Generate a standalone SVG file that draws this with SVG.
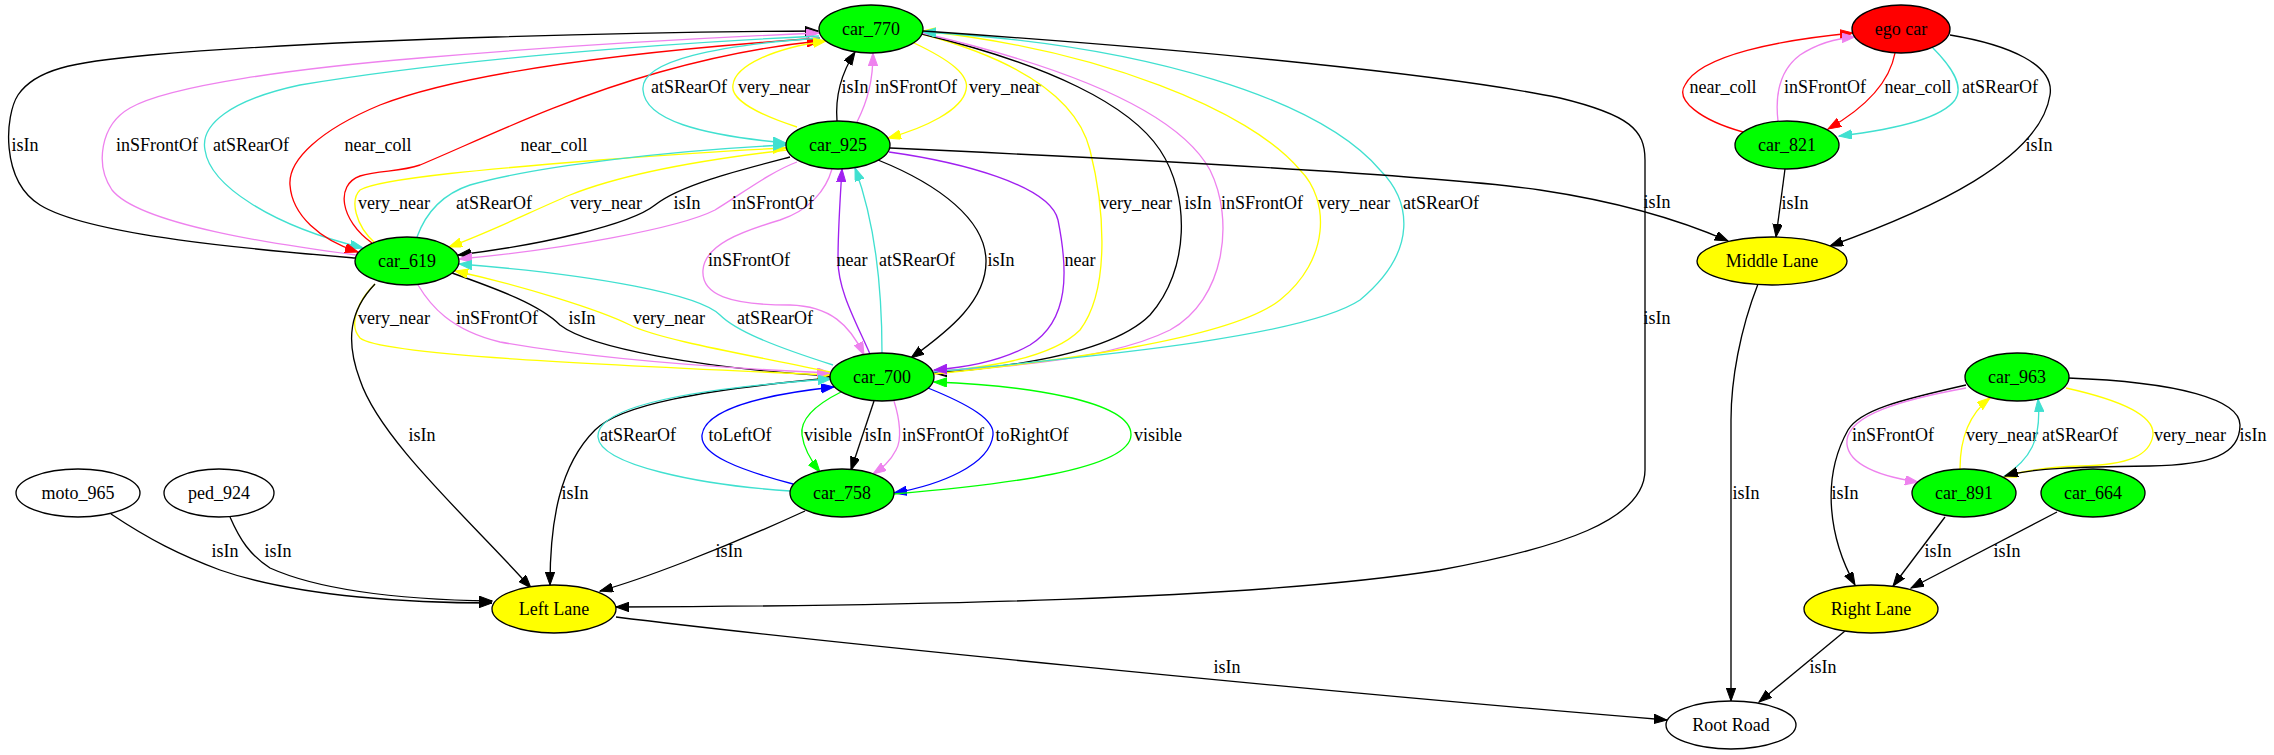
<svg xmlns="http://www.w3.org/2000/svg" width="2274" height="755" viewBox="0 0 2274 755">
<style>
.e{fill:none;stroke-width:1.33}
.k{stroke:#000}.r{stroke:#ff0000}.v{stroke:#ee82ee}.q{stroke:#40e0d0}.y{stroke:#ffff00}.p{stroke:#a020f0}.b{stroke:#0000ff}.g{stroke:#00ff00}
text{font-family:"Liberation Serif","Times New Roman",serif;font-size:18px;text-anchor:middle;fill:#000}
.n{stroke:#000;stroke-width:1.33}
.gr{fill:#00ff00}.ye{fill:#ffff00}.rd{fill:#ff0000}.wh{fill:#fff}
</style>
<defs>
<marker id="ak" markerUnits="userSpaceOnUse" markerWidth="14" markerHeight="10" refX="13" refY="4.7" orient="auto"><path d="M0,0L13,4.7L0,9.4z" fill="#000" stroke="#000"/></marker>
<marker id="ar" markerUnits="userSpaceOnUse" markerWidth="14" markerHeight="10" refX="13" refY="4.7" orient="auto"><path d="M0,0L13,4.7L0,9.4z" fill="#ff0000" stroke="#ff0000"/></marker>
<marker id="av" markerUnits="userSpaceOnUse" markerWidth="14" markerHeight="10" refX="13" refY="4.7" orient="auto"><path d="M0,0L13,4.7L0,9.4z" fill="#ee82ee" stroke="#ee82ee"/></marker>
<marker id="aq" markerUnits="userSpaceOnUse" markerWidth="14" markerHeight="10" refX="13" refY="4.7" orient="auto"><path d="M0,0L13,4.7L0,9.4z" fill="#40e0d0" stroke="#40e0d0"/></marker>
<marker id="ay" markerUnits="userSpaceOnUse" markerWidth="14" markerHeight="10" refX="13" refY="4.7" orient="auto"><path d="M0,0L13,4.7L0,9.4z" fill="#ffff00" stroke="#ffff00"/></marker>
<marker id="ap" markerUnits="userSpaceOnUse" markerWidth="14" markerHeight="10" refX="13" refY="4.7" orient="auto"><path d="M0,0L13,4.7L0,9.4z" fill="#a020f0" stroke="#a020f0"/></marker>
<marker id="ab" markerUnits="userSpaceOnUse" markerWidth="14" markerHeight="10" refX="13" refY="4.7" orient="auto"><path d="M0,0L13,4.7L0,9.4z" fill="#0000ff" stroke="#0000ff"/></marker>
<marker id="ag" markerUnits="userSpaceOnUse" markerWidth="14" markerHeight="10" refX="13" refY="4.7" orient="auto"><path d="M0,0L13,4.7L0,9.4z" fill="#00ff00" stroke="#00ff00"/></marker>
</defs>
<rect width="2274" height="755" fill="#fff"/>
<g id="edges">
<g id="e1"><path class="e k" marker-end="url(#ak)" d="M355,258 C260,250 90,236 40,205 C0,180 5,115 18,95 C35,70 70,62 150,55 C350,38 650,32 818,31"/><text x="25" y="151">isIn</text></g>
<g id="e2"><path class="e v" marker-end="url(#av)" d="M356,255 C280,245 140,225 112,190 C95,165 100,125 130,108 C170,85 300,68 420,58 C560,46 700,38 819,33"/><text x="157" y="151">inSFrontOf</text></g>
<g id="e3"><path class="e q" marker-end="url(#aq)" d="M819,36 C650,44 450,60 300,85 C230,100 200,125 205,150 C210,185 270,225 363,248"/><text x="251" y="151">atSRearOf</text></g>
<g id="e4"><path class="e r" marker-end="url(#ar)" d="M820,38 C650,50 470,70 380,105 C320,130 288,160 290,185 C292,215 320,240 358,252"/><text x="378" y="151">near_coll</text></g>
<g id="e5"><path class="e r" marker-end="url(#ar)" d="M372,243 C340,220 335,185 360,176 C380,170 400,172 420,165 C480,140 560,100 660,72 C720,55 770,46 820,41"/><text x="554" y="151">near_coll</text></g>
<g id="e6"><path class="e q" marker-end="url(#aq)" d="M820,38 C720,45 640,60 643,90 C645,120 700,135 786,143"/><text x="689" y="93">atSRearOf</text></g>
<g id="e7"><path class="e y" marker-end="url(#ay)" d="M797,127 C760,115 730,100 733,85 C735,65 775,48 826,41"/><text x="774" y="93">very_near</text></g>
<g id="e8"><path class="e k" marker-end="url(#ak)" d="M837,121 C835,95 842,72 855,52"/><text x="855" y="93">isIn</text></g>
<g id="e9"><path class="e v" marker-end="url(#av)" d="M857,122 C868,100 873,80 873,53"/><text x="916" y="93">inSFrontOf</text></g>
<g id="e10"><path class="e y" marker-end="url(#ay)" d="M914,43 C950,60 970,75 966,90 C962,110 925,128 888,138"/><text x="1005" y="93">very_near</text></g>
<g id="e11"><path class="e y" marker-end="url(#ay)" d="M922,34 C1000,55 1075,90 1090,150 C1105,210 1110,290 1080,330 C1050,360 980,368 934,372"/><text x="1136" y="209">very_near</text></g>
<g id="e12"><path class="e k" marker-end="url(#ak)" d="M922,34 C1050,65 1130,105 1160,150 C1190,195 1190,270 1150,315 C1110,355 1000,368 934,373"/><text x="1198" y="209">isIn</text></g>
<g id="e13"><path class="e v" marker-end="url(#av)" d="M922,33 C1080,70 1180,115 1210,170 C1235,220 1225,300 1170,330 C1110,360 1000,368 934,371"/><text x="1262" y="209">inSFrontOf</text></g>
<g id="e14"><path class="e y" marker-end="url(#ay)" d="M934,374 C1050,362 1230,340 1280,300 C1330,260 1330,200 1300,170 C1250,110 1100,50 923,31"/><text x="1354" y="209">very_near</text></g>
<g id="e15"><path class="e q" marker-end="url(#aq)" d="M934,372 C1050,360 1300,340 1360,300 C1420,250 1410,200 1380,170 C1320,100 1150,45 923,32"/><text x="1441" y="209">atSRearOf</text></g>
<g id="e16"><path class="e k" marker-end="url(#ak)" d="M923,31 C1200,50 1450,75 1560,98 C1630,115 1645,130 1645,160 L1645,470 C1645,520 1560,548 1440,570 C1250,600 900,606 616,607"/><text x="1657" y="324">isIn</text></g>
<g id="e17"><path class="e k" marker-end="url(#ak)" d="M890,148 C1150,160 1440,175 1540,190 C1620,202 1680,220 1728,241"/><text x="1657" y="208">isIn</text></g>
<g id="e18"><path class="e p" marker-end="url(#ap)" d="M889,152 C960,162 1050,185 1058,220 C1068,270 1070,320 1030,345 C1000,362 960,368 934,370"/><text x="1080" y="266">near</text></g>
<g id="e19"><path class="e k" marker-end="url(#ak)" d="M878,160 C940,185 985,220 986,260 C987,300 950,330 911,358"/><text x="1001" y="266">isIn</text></g>
<g id="e20"><path class="e p" marker-end="url(#ap)" d="M870,354 C855,320 838,290 838,260 C838,230 840,200 842,169"/><text x="852" y="266">near</text></g>
<g id="e21"><path class="e q" marker-end="url(#aq)" d="M882,353 C882,300 878,230 855,168"/><text x="917" y="266">atSRearOf</text></g>
<g id="e22"><path class="e v" marker-end="url(#av)" d="M832,169 C826,190 810,210 780,220 C740,232 705,245 703,270 C701,295 730,305 790,305 C830,306 850,325 864,355"/><text x="749" y="266">inSFrontOf</text></g>
<g id="e23"><path class="e y" marker-end="url(#ay)" d="M375,243 C355,225 350,200 360,190 C380,178 500,168 600,160 C680,154 740,150 786,148"/><text x="394" y="209">very_near</text></g>
<g id="e24"><path class="e q" marker-end="url(#aq)" d="M417,237 C425,215 440,195 470,185 C540,165 680,150 786,145"/><text x="494" y="209">atSRearOf</text></g>
<g id="e25"><path class="e y" marker-end="url(#ay)" d="M787,150 C700,160 620,175 570,195 C530,212 490,232 449,247"/><text x="606" y="209">very_near</text></g>
<g id="e26"><path class="e k" marker-end="url(#ak)" d="M790,157 C740,170 680,185 655,205 C630,225 540,245 458,255"/><text x="687" y="209">isIn</text></g>
<g id="e27"><path class="e v" marker-end="url(#av)" d="M797,162 C770,172 740,195 715,210 C680,228 560,250 459,259"/><text x="773" y="209">inSFrontOf</text></g>
<g id="e30"><path class="e k" marker-end="url(#ak)" d="M452,273 C500,290 540,305 560,325 C590,348 700,368 830,376"/><text x="582" y="324">isIn</text></g>
<g id="e28"><path class="e y" marker-end="url(#ay)" d="M375,284 C358,300 348,325 360,338 C380,355 600,365 830,375"/><text x="394" y="324">very_near</text></g>
<g id="e29"><path class="e v" marker-end="url(#av)" d="M418,285 C430,305 450,330 500,342 C600,360 720,368 830,373"/><text x="497" y="324">inSFrontOf</text></g>
<g id="e31"><path class="e y" marker-end="url(#ay)" d="M830,372 C750,355 660,340 630,325 C600,310 520,285 455,271"/><text x="669" y="324">very_near</text></g>
<g id="e32"><path class="e q" marker-end="url(#aq)" d="M833,365 C770,345 735,330 720,315 C700,295 600,275 459,264"/><text x="775" y="324">atSRearOf</text></g>
<g id="e33"><path class="e k" marker-end="url(#ak)" d="M831,378 C700,390 620,405 595,430 C560,465 550,520 550,585"/><text x="575" y="499">isIn</text></g>
<g id="e34"><path class="e q" marker-end="url(#aq)" d="M790,491 C700,485 600,465 598,437 C596,405 700,388 831,379"/><text x="638" y="441">atSRearOf</text></g>
<g id="e35"><path class="e b" marker-end="url(#ab)" d="M793,484 C740,470 700,455 702,435 C705,410 760,395 834,387"/><text x="740" y="441">toLeftOf</text></g>
<g id="e36"><path class="e g" marker-end="url(#ag)" d="M841,392 C815,405 800,420 802,435 C804,450 812,462 820,472"/><text x="828" y="441">visible</text></g>
<g id="e37"><path class="e k" marker-end="url(#ak)" d="M874,401 L851,470"/><text x="878" y="441">isIn</text></g>
<g id="e38"><path class="e v" marker-end="url(#av)" d="M894,401 C900,420 902,440 896,450 C890,462 882,468 873,474"/><text x="943" y="441">inSFrontOf</text></g>
<g id="e39"><path class="e b" marker-end="url(#ab)" d="M928,388 C970,405 995,420 993,435 C990,465 940,485 894,493"/><text x="1032" y="441">toRightOf</text></g>
<g id="e40"><path class="e g" marker-end="url(#ag)" d="M894,494 C1000,485 1130,470 1131,435 C1132,400 1020,385 934,382"/><text x="1158" y="441">visible</text></g>
<g id="e41"><path class="e k" marker-end="url(#ak)" d="M375,284 C350,310 345,340 360,380 C380,440 470,520 531,588"/><text x="422" y="441">isIn</text></g>
<g id="e42"><path class="e k" marker-end="url(#ak)" d="M805,511 C720,550 640,580 600,591"/><text x="729" y="557">isIn</text></g>
<g id="e43"><path class="e k" marker-end="url(#ak)" d="M111,514 C150,540 180,555 220,570 C300,598 420,603 492,603"/><text x="225" y="557">isIn</text></g>
<g id="e44"><path class="e k" marker-end="url(#ak)" d="M230,517 C240,540 250,555 270,568 C330,595 430,600 492,601"/><text x="278" y="557">isIn</text></g>
<g id="e45"><path class="e k" marker-end="url(#ak)" d="M616,617 C800,640 1300,690 1667,720"/><text x="1227" y="673">isIn</text></g>
<g id="e46"><path class="e k" marker-end="url(#ak)" d="M1950,35 C2010,45 2055,65 2050,95 C2040,160 1930,210 1830,246"/><text x="2039" y="151">isIn</text></g>
<g id="e47"><path class="e r" marker-end="url(#ar)" d="M1743,132 C1700,120 1675,100 1685,85 C1700,55 1780,40 1853,33"/><text x="1723" y="93">near_coll</text></g>
<g id="e48"><path class="e v" marker-end="url(#av)" d="M1778,121 C1775,95 1780,70 1800,55 C1820,42 1840,38 1855,37"/><text x="1825" y="93">inSFrontOf</text></g>
<g id="e49"><path class="e r" marker-end="url(#ar)" d="M1895,53 C1890,80 1870,105 1828,129"/><text x="1918" y="93">near_coll</text></g>
<g id="e50"><path class="e q" marker-end="url(#aq)" d="M1932,47 C1950,65 1965,85 1955,100 C1940,120 1890,130 1839,136"/><text x="2000" y="93">atSRearOf</text></g>
<g id="e51"><path class="e k" marker-end="url(#ak)" d="M1785,169 L1776,237"/><text x="1795" y="209">isIn</text></g>
<g id="e52"><path class="e k" marker-end="url(#ak)" d="M1758,284 C1740,330 1731,380 1731,420 L1731,701"/><text x="1746" y="499">isIn</text></g>
<g id="e53"><path class="e k" marker-end="url(#ak)" d="M1845,631 L1759,702"/><text x="1823" y="673">isIn</text></g>
<g id="e54"><path class="e k" marker-end="url(#ak)" d="M1966,385 C1900,400 1860,410 1848,430 C1820,480 1830,540 1855,585"/><text x="1845" y="499">isIn</text></g>
<g id="e55"><path class="e v" marker-end="url(#av)" d="M1966,388 C1900,400 1850,415 1847,440 C1845,460 1870,475 1918,482"/><text x="1893" y="441">inSFrontOf</text></g>
<g id="e56"><path class="e y" marker-end="url(#ay)" d="M1960,469 C1960,440 1968,415 1990,398"/><text x="2002" y="441">very_near</text></g>
<g id="e57"><path class="e q" marker-end="url(#aq)" d="M2003,477 C2030,460 2042,440 2038,399"/><text x="2080" y="441">atSRearOf</text></g>
<g id="e58"><path class="e y" marker-end="url(#ay)" d="M2066,388 C2120,400 2155,415 2153,435 C2150,455 2130,465 2080,466 C2050,467 2025,470 2004,477"/><text x="2190" y="441">very_near</text></g>
<g id="e59"><path class="e k" marker-end="url(#ak)" d="M2068,378 C2180,382 2240,400 2240,425 C2240,455 2210,465 2150,466 C2080,467 2030,468 2005,476"/><text x="2253" y="441">isIn</text></g>
<g id="e60"><path class="e k" marker-end="url(#ak)" d="M1945,517 L1893,586"/><text x="1938" y="557">isIn</text></g>
<g id="e61"><path class="e k" marker-end="url(#ak)" d="M2057,512 L1911,588"/><text x="2007" y="557">isIn</text></g>
</g>
<g id="car_770"><ellipse class="n gr" cx="871" cy="29" rx="52" ry="24"/><text x="871" y="35">car_770</text></g>
<g id="car_925"><ellipse class="n gr" cx="838" cy="145" rx="52" ry="24"/><text x="838" y="151">car_925</text></g>
<g id="car_619"><ellipse class="n gr" cx="407" cy="261" rx="52" ry="24"/><text x="407" y="267">car_619</text></g>
<g id="car_700"><ellipse class="n gr" cx="882" cy="377" rx="52" ry="24"/><text x="882" y="383">car_700</text></g>
<g id="car_758"><ellipse class="n gr" cx="842" cy="493" rx="52" ry="24"/><text x="842" y="499">car_758</text></g>
<g id="left_lane"><ellipse class="n ye" cx="554" cy="609" rx="62" ry="24"/><text x="554" y="615">Left Lane</text></g>
<g id="moto_965"><ellipse class="n wh" cx="78" cy="493" rx="62" ry="24"/><text x="78" y="499">moto_965</text></g>
<g id="ped_924"><ellipse class="n wh" cx="219" cy="493" rx="55" ry="24"/><text x="219" y="499">ped_924</text></g>
<g id="ego_car"><ellipse class="n rd" cx="1901" cy="29" rx="49" ry="24"/><text x="1901" y="35">ego car</text></g>
<g id="car_821"><ellipse class="n gr" cx="1787" cy="145" rx="52" ry="24"/><text x="1787" y="151">car_821</text></g>
<g id="middle_lane"><ellipse class="n ye" cx="1772" cy="261" rx="75" ry="24"/><text x="1772" y="267">Middle Lane</text></g>
<g id="car_963"><ellipse class="n gr" cx="2017" cy="377" rx="52" ry="24"/><text x="2017" y="383">car_963</text></g>
<g id="car_891"><ellipse class="n gr" cx="1964" cy="493" rx="52" ry="24"/><text x="1964" y="499">car_891</text></g>
<g id="car_664"><ellipse class="n gr" cx="2093" cy="493" rx="52" ry="24"/><text x="2093" y="499">car_664</text></g>
<g id="right_lane"><ellipse class="n ye" cx="1871" cy="609" rx="67" ry="24"/><text x="1871" y="615">Right Lane</text></g>
<g id="root_road"><ellipse class="n wh" cx="1731" cy="725" rx="65" ry="24"/><text x="1731" y="731">Root Road</text></g>
</svg>
